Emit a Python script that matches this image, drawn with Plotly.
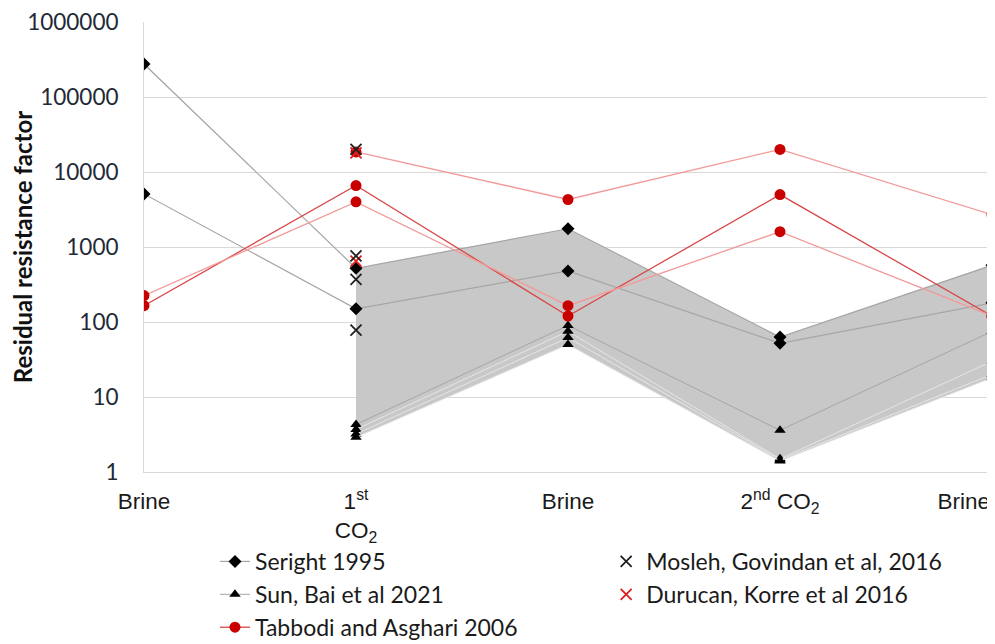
import plotly.graph_objects as go

# ---------------- data ----------------
stages = ["Brine", "1st CO2", "Brine", "2nd CO2", "Brine"]
tick_labels = ["Brine", "1<sup>st</sup><br>CO<sub>2</sub>", "Brine",
               "2<sup>nd</sup> CO<sub>2</sub>", "Brine" + "\u00a0" * 9]
x_pos = [0, 1, 2, 3, 4]

seright_a = [275000, 520, 1750, 63, 570]
seright_b = [5100, 150, 480, 52, 180]

sun_1 = [None, 4.3, 90, 3.6, 75]
sun_2 = [None, 3.7, 75, 1.5, 30]
sun_3 = [None, 3.2, 62, 1.45, 20]
sun_4 = [None, 2.9, 50, 1.4, 18]

tabbodi_1 = [225, 4000, 165, 1600, 120]
tabbodi_2 = [165, 6600, 120, 5000, 120]
tabbodi_3 = [None, 18500, 4300, 20000, 2700]

mosleh_x = [1, 1, 1, 1]
mosleh_y = [20000, 760, 370, 78]
durucan_x = [1, 1]
durucan_y = [18000, 650]

y_tickvals = [1, 10, 100, 1000, 10000, 100000, 1000000]
y_ticktext = ["1", "10", "100", "1000", "10000", "100000", "1000000"]

# ---------------- figure ----------------
fig = go.Figure()

# grey envelope band between the highest and lowest of Seright/Sun series
band_series = [seright_a, seright_b, sun_1, sun_2, sun_3, sun_4]
band_x, band_lo, band_hi = [], [], []
for i in range(1, len(x_pos)):
    vals = [s[i] for s in band_series if s[i] is not None]
    band_x.append(x_pos[i])
    band_lo.append(min(vals))
    band_hi.append(max(vals))

fig.add_trace(go.Scatter(x=band_x, y=band_lo, mode="lines",
                         line=dict(width=0, color="#c8c8c8"),
                         showlegend=False, hoverinfo="skip"))
fig.add_trace(go.Scatter(x=band_x, y=band_hi, mode="lines", fill="tonexty",
                         fillcolor="#c8c8c8", line=dict(width=0, color="#c8c8c8"),
                         showlegend=False, hoverinfo="skip"))

# Sun, Bai et al 2021
for k, s in enumerate([sun_1, sun_2, sun_3, sun_4]):
    fig.add_trace(go.Scatter(
        x=x_pos, y=s, mode="lines+markers", name="Sun, Bai et al 2021",
        legendgroup="sun", showlegend=(k == 0), legend="legend", legendrank=2,
        line=dict(color="#e6e6e6" if k else "#a6a6a6", width=1),
        marker=dict(symbol="triangle-up", size=10, color="black")))

# Seright 1995
for k, s in enumerate([seright_a, seright_b]):
    fig.add_trace(go.Scatter(
        x=x_pos, y=s, mode="lines+markers", name="Seright 1995",
        legendgroup="seright", showlegend=(k == 0), legend="legend", legendrank=1,
        line=dict(color="#a6a6a6", width=1.2),
        marker=dict(symbol="diamond", size=10, color="black")))

# Tabbodi and Asghari 2006
tab_line_colors = ["#d94848", "#f29a9a", "#f29a9a"]
for k, s in enumerate([tabbodi_2, tabbodi_1, tabbodi_3]):
    fig.add_trace(go.Scatter(
        x=x_pos, y=s, mode="lines+markers", name="Tabbodi and Asghari 2006",
        legendgroup="tabbodi", showlegend=(k == 0), legend="legend", legendrank=3,
        line=dict(color=tab_line_colors[k], width=1.3),
        marker=dict(symbol="circle", size=11, color="#c80000")))

# Durucan, Korre et al 2016
fig.add_trace(go.Scatter(
    x=durucan_x, y=durucan_y, mode="markers", name="Durucan, Korre et al 2016",
    legendgroup="durucan", legend="legend2", legendrank=2,
    marker=dict(symbol="x-thin-open", size=11, color="#e02020",
                line=dict(color="#e02020", width=1.8))))

# Mosleh, Govindan et al, 2016
fig.add_trace(go.Scatter(
    x=mosleh_x, y=mosleh_y, mode="markers", name="Mosleh, Govindan et al, 2016",
    legendgroup="mosleh", legend="legend2", legendrank=1,
    marker=dict(symbol="x-thin-open", size=11, color="#202020",
                line=dict(color="#202020", width=1.8))))

legend_font = dict(family="Lato, 'Open Sans', sans-serif", size=23, color="#1a1a1a")

fig.update_layout(
    width=987, height=636,
    margin=dict(l=136, r=3, t=14, b=172, autoexpand=False),
    paper_bgcolor="white", plot_bgcolor="white",
    showlegend=True,
    legend=dict(x=0.0837, y=-0.151, xanchor="left", yanchor="top",
                orientation="v", tracegroupgap=0, font=legend_font,
                bgcolor="rgba(0,0,0,0)", itemwidth=30),
    legend2=dict(x=0.545, y=-0.151, xanchor="left", yanchor="top",
                 orientation="v", tracegroupgap=0, font=legend_font,
                 bgcolor="rgba(0,0,0,0)", itemwidth=30),
    xaxis=dict(range=[0, 4], tickvals=x_pos, ticktext=tick_labels,
               showgrid=False, zeroline=False, showline=True,
               linecolor="#d9d9d9", linewidth=1, ticklabeloverflow="allow",
               ticks="outside", ticklen=9, tickcolor="rgba(0,0,0,0)",
               tickfont=dict(family="Liberation Sans, Arial, sans-serif",
                             size=22.5, color="#1a1a1a")),
    yaxis=dict(type="log", range=[0, 6], tickvals=y_tickvals, ticktext=y_ticktext,
               showgrid=True, gridcolor="#d9d9d9", gridwidth=1,
               zeroline=False, showline=True, linecolor="#d9d9d9", linewidth=1,
               ticklabeloverflow="allow",
               ticks="outside", ticklen=20, tickcolor="rgba(0,0,0,0)",
               tickfont=dict(family="Lato, 'Open Sans', sans-serif", size=22.5,
                             color="#1f2a36"),
               title=dict(text="<b>Residual resistance factor</b>", standoff=0,
                          font=dict(family="Lato, 'Open Sans', sans-serif",
                                    size=24, color="#111111"))),
)

fig.write_html("out.html")
